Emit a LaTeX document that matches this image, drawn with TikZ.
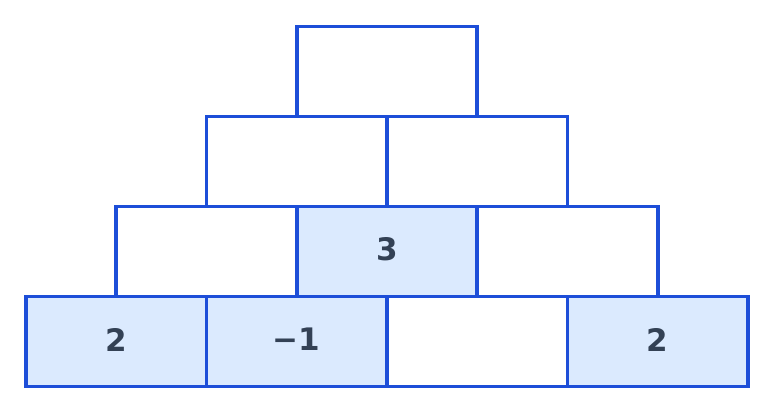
\documentclass[tikz,border=0pt]{standalone}
\usepackage{fontspec}
\setmainfont{DejaVu Sans}
\definecolor{stroke}{HTML}{1D4ED8}
\definecolor{fillb}{HTML}{DBEAFE}
\definecolor{txt}{HTML}{334155}
\newcommand\liftnum[1]{\raisebox{2pt}[\height][\depth]{#1}}
\begin{document}
\begin{tikzpicture}[x=1pt,y=-1pt,
  cell/.style={draw=stroke,line width=3.8pt,outer sep=0pt,minimum width=180.5pt,minimum height=90pt,inner sep=0pt,anchor=north west,font=\fontsize{31}{36}\selectfont\bfseries,text=txt},
  given/.style={cell,fill=fillb}]
\useasboundingbox (0,0) rectangle (774,413);
% bottom row
\node[given] (b1) at (26,296.5) {\liftnum{2}};
\node[given] (b2) at (206.5,296.5) {\liftnum{−1}};
\node[cell]  (b3) at (387,296.5) {};
\node[given] (b4) at (567.5,296.5) {\liftnum{2}};
% third row
\node[cell]  (c1) at (116.25,206.5) {};
\node[given] (c2) at (296.75,206.5) {\liftnum{3}};
\node[cell]  (c3) at (477.25,206.5) {};
% second row
\node[cell] (d1) at (206.5,116.5) {};
\node[cell] (d2) at (387,116.5) {};
% top
\node[cell] (e1) at (296.75,26.5) {};
\end{tikzpicture}
\end{document}
